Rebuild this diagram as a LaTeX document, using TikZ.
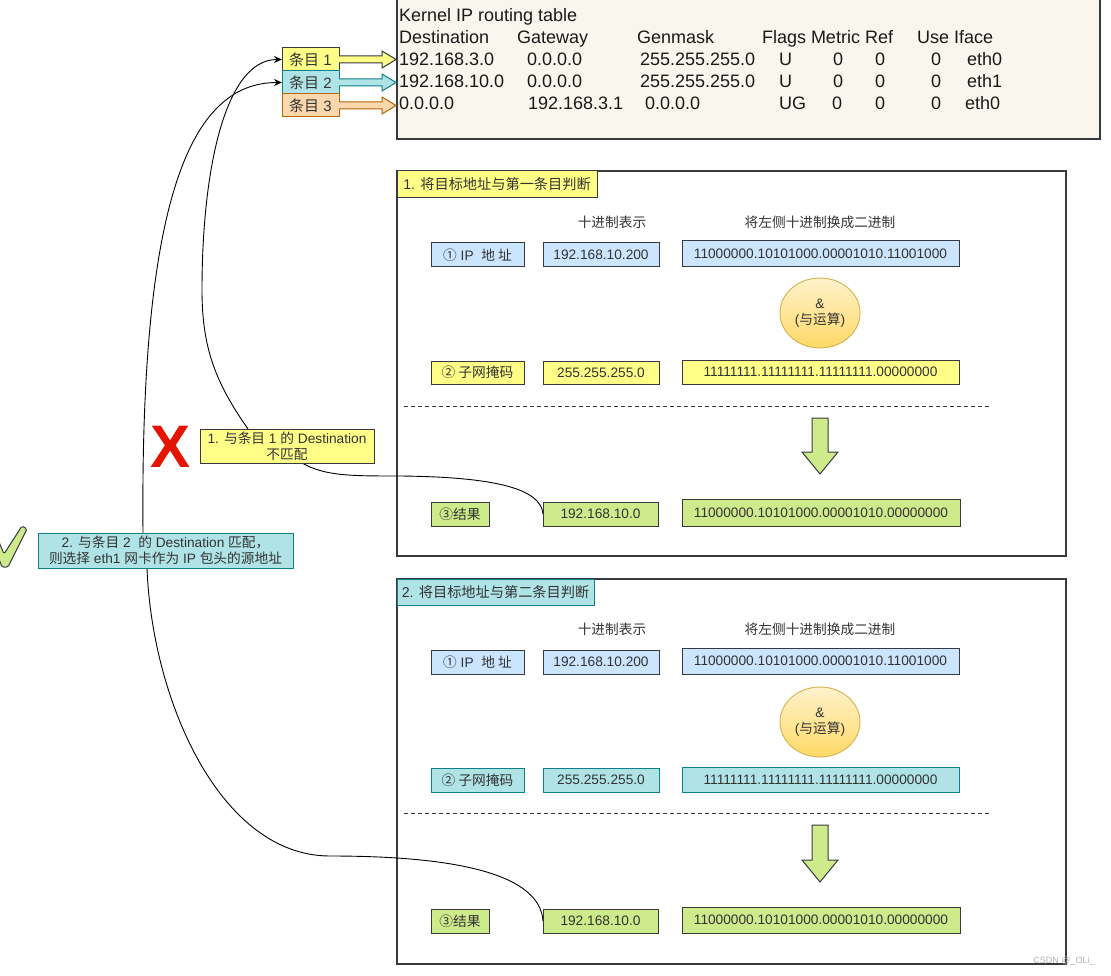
\documentclass[tikz,border=0pt]{standalone}
\usepackage{fontspec}
\setmainfont{Liberation Sans}
\newfontfamily\cjk{Noto Sans CJK SC}
\newcommand\zhtxt[1]{{\cjk #1}}
\usetikzlibrary{arrows.meta,shapes.geometric}
\definecolor{strk}{HTML}{36393D}
\definecolor{txt}{HTML}{333333}
\definecolor{yfill}{HTML}{FFFF88}
\definecolor{bfill}{HTML}{CCE5FF}
\definecolor{tfill}{HTML}{B0E3E6}
\definecolor{tstrk}{HTML}{0E8088}
\definecolor{gfill}{HTML}{CDEB8B}
\definecolor{ofill}{HTML}{FAD7AC}
\definecolor{ostrk}{HTML}{B46504}
\definecolor{tbl}{HTML}{F9F7ED}
\definecolor{xred}{HTML}{E51400}
\definecolor{ellA}{HTML}{FFF2CC}
\definecolor{ellB}{HTML}{FFD966}
\definecolor{ellS}{HTML}{D6B656}
\begin{document}
\begin{tikzpicture}[x=1pt,y=-1pt,
  every node/.style={inner sep=0pt, outer sep=0pt, text=txt},
  body/.style={font=\fontsize{13.7}{16}\selectfont},
  bx/.style={draw=strk, line width=1pt, anchor=north west, body, align=center},
  yb/.style={bx, fill=yfill},
  bb/.style={bx, fill=bfill},
  tb/.style={bx, fill=tfill, draw=tstrk},
  gb/.style={bx, fill=gfill},
  secframe/.style={draw=strk, line width=1.2pt},
  hdr/.style={font=\fontsize{14.2}{17}\selectfont},
  entrybox/.style={bx, font=\fontsize{15}{18}\selectfont, minimum width=57pt, minimum height=23pt},
  tt/.style={anchor=base west, text=black!90, font=\fontsize{18}{22}\selectfont},
  conn/.style={draw=black, line width=0.9pt},
  arrowend/.style={-{Stealth[length=8pt,width=7pt]}},
  downarrow/.style={fill=gfill, draw=strk, line width=1pt},
  andop/.style={ellipse, draw=ellS, line width=1pt, top color=ellA, bottom color=ellB, minimum width=80pt, minimum height=70pt, body, align=center},
  captext/.style={body},
]
\fill[white] (0,0) rectangle (1111,976);
\useasboundingbox (0,0) rectangle (1111,976);

% ---------- routing table ----------
\node[draw=strk, line width=1.2pt, fill=tbl, anchor=north west, minimum width=703pt, minimum height=145pt] (table) at (397,-6) {};
\node[tt] (t0) at (399,22) {Kernel IP routing table};
\node[tt] (h1) at (399,44) {Destination};
\node[tt] (h2) at (517,44) {Gateway};
\node[tt] (h3) at (637,44) {Genmask};
\node[tt] (h4) at (762,44) {Flags Metric Ref};
\node[tt] (h5) at (917,44) {Use Iface};
\node[tt] (a1) at (399,66) {192.168.3.0};
\node[tt] (a2) at (527,66) {0.0.0.0};
\node[tt] (a3) at (640,66) {255.255.255.0};
\node[tt] (a4) at (779,66) {U};
\node[tt] (a5) at (833,66) {0};
\node[tt] (a6) at (875,66) {0};
\node[tt] (a7) at (931,66) {0};
\node[tt] (a8) at (967,66) {eth0};
\node[tt] (b1) at (399,88) {192.168.10.0};
\node[tt] (b2) at (527,88) {0.0.0.0};
\node[tt] (b3) at (640,88) {255.255.255.0};
\node[tt] (b4) at (779,88) {U};
\node[tt] (b5) at (833,88) {0};
\node[tt] (b6) at (875,88) {0};
\node[tt] (b7) at (931,88) {0};
\node[tt] (b8) at (967,88) {eth1};
\node[tt] (c1) at (399,110) {0.0.0.0};
\node[tt] (c2) at (528,110) {192.168.3.1};
\node[tt] (c3) at (645,110) {0.0.0.0};
\node[tt] (c4) at (779,110) {UG};
\node[tt] (c5) at (832,110) {0};
\node[tt] (c6) at (875,110) {0};
\node[tt] (c7) at (931,110) {0};
\node[tt] (c8) at (965,110) {eth0};

% ---------- entries ----------
\node[entrybox, fill=yfill] (e1) at (282,48) {\zhtxt{条目} 1};
\node[entrybox, fill=tfill, draw=tstrk] (e2) at (282,71) {\zhtxt{条目} 2};
\node[entrybox, fill=ofill, draw=ostrk] (e3) at (282,94) {\zhtxt{条目} 3};
\draw[fill=yfill, draw=strk, line width=1pt] (339,56) -- (382,56) -- (382,51) -- (396,59.5) -- (382,68) -- (382,63) -- (339,63);
\draw[fill=tfill, draw=tstrk, line width=1pt] (339,79) -- (382,79) -- (382,74) -- (396,82.5) -- (382,91) -- (382,86) -- (339,86);
\draw[fill=ofill, draw=ostrk, line width=1pt] (339,102) -- (382,102) -- (382,97) -- (396,105.5) -- (382,114) -- (382,109) -- (339,109);

% ---------- section 1 ----------
\draw[secframe] (397,171) rectangle (1066,556);
\node[yb, hdr, minimum width=200pt, minimum height=27pt] (hdr1) at (397,171) {1. \zhtxt{将目标地址与第一条目判断}};
\node[captext] (dec1) at (612,222) {\zhtxt{十进制表示}};
\node[captext] (bin1) at (820,222) {\zhtxt{将左侧十进制换成二进制}};
\node[bb, minimum width=93pt, minimum height=24pt] (ip1) at (431,243) {\zhtxt{①} IP\ \ \zhtxt{地 址}};
\node[bb, minimum width=116pt, minimum height=24pt] (ipd1) at (543,243) {192.168.10.200};
\node[bb, minimum width=277pt, minimum height=26pt] (ipb1) at (682,241) {11000000.10101000.00001010.11001000};
\node[andop] (and1) at (820,313) {\&\\(\zhtxt{与运算})};
\node[yb, minimum width=93pt, minimum height=23pt] (mk1) at (431,361) {\zhtxt{② 子网掩码}};
\node[yb, minimum width=116pt, minimum height=23pt] (mkd1) at (543,361) {255.255.255.0};
\node[yb, minimum width=277pt, minimum height=24pt] (mkb1) at (682,360) {11111111.11111111.11111111.00000000};
\draw[dashed, dash pattern=on 4pt off 3pt, draw=strk, line width=1pt] (404,406) -- (991,406);
\draw[downarrow] (812,418) -- (828,418) -- (828,452) -- (838,452) -- (820,474) -- (802,452) -- (812,452) -- cycle;
\node[gb, minimum width=58pt, minimum height=24pt] (rs1) at (431,502) {\zhtxt{③结果}};
\node[gb, minimum width=115pt, minimum height=24pt] (rsd1) at (543,502) {192.168.10.0};
\node[gb, minimum width=278pt, minimum height=27pt] (rsb1) at (682,499) {11000000.10101000.00001010.00000000};

% ---------- section 2 ----------
\draw[secframe] (397,579) rectangle (1066,964);
\node[tb, hdr, minimum width=197pt, minimum height=26pt] (hdr2) at (397,579) {2. \zhtxt{将目标地址与第二条目判断}};
\node[captext] (dec2) at (612,629) {\zhtxt{十进制表示}};
\node[captext] (bin2) at (820,629) {\zhtxt{将左侧十进制换成二进制}};
\node[bb, minimum width=93pt, minimum height=24pt] (ip2) at (431,650) {\zhtxt{①} IP\ \ \zhtxt{地 址}};
\node[bb, minimum width=116pt, minimum height=24pt] (ipd2) at (543,650) {192.168.10.200};
\node[bb, minimum width=277pt, minimum height=26pt] (ipb2) at (682,648) {11000000.10101000.00001010.11001000};
\node[andop] (and2) at (820,722) {\&\\(\zhtxt{与运算})};
\node[tb, minimum width=93pt, minimum height=24pt] (mk2) at (431,768) {\zhtxt{② 子网掩码}};
\node[tb, minimum width=116pt, minimum height=24pt] (mkd2) at (543,768) {255.255.255.0};
\node[tb, minimum width=277pt, minimum height=25pt] (mkb2) at (682,767) {11111111.11111111.11111111.00000000};
\draw[dashed, dash pattern=on 4pt off 3pt, draw=strk, line width=1pt] (404,813) -- (991,813);
\draw[downarrow] (812,825) -- (828,825) -- (828,860) -- (838,860) -- (820,882) -- (802,860) -- (812,860) -- cycle;
\node[gb, minimum width=58pt, minimum height=24pt] (rs2) at (431,909) {\zhtxt{③结果}};
\node[gb, minimum width=115pt, minimum height=24pt] (rsd2) at (543,909) {192.168.10.0};
\node[gb, minimum width=278pt, minimum height=26pt] (rsb2) at (682,907) {11000000.10101000.00001010.00000000};

% ---------- connectors ----------
\coordinate (k1) at (400,476);
\coordinate (w1) at (202,290);
\coordinate (k2) at (330,856);
\draw[conn] (302,463) .. controls (325,476) and (350,476) .. (k1) .. controls (500,477) and (541,490) .. (rsd1.west);
\draw[conn, arrowend] (248,429) to[out=125,in=-90] (w1) .. controls (202,170) and (225,59.5) .. (e1.west);
\draw[conn] (147,568) .. controls (152,700) and (220,856) .. (k2) .. controls (460,856) and (540,875) .. (rsd2.west);
\draw[conn, arrowend] (143,533) .. controls (140,200) and (190,82.5) .. (e2.west);

% ---------- labels ----------
\node[yb, minimum width=174pt, minimum height=34pt] (lab1) at (200,429) {1. \zhtxt{与条目} 1 \zhtxt{的} Destination\\\zhtxt{不匹配}};
\node[tb, minimum width=255pt, minimum height=35pt] (lab2) at (38,533) {2. \zhtxt{与条目} 2\ \ \zhtxt{的} Destination \zhtxt{匹配，}\\\zhtxt{则选择} eth1 \zhtxt{网卡作为} IP \zhtxt{包头的源地址}};

% ---------- marks ----------
\node[text=xred, font=\fontsize{60}{60}\selectfont\bfseries] (xmark) at (171,447) {X};
\draw[fill=gfill, draw=strk, line width=1pt, rounded corners=1.5pt] (-6,546) -- (-1,542) -- (4,554) -- (22,526) -- (27,529) -- (8,567) -- (2,567) -- cycle;

\node[text=gray!60, font=\fontsize{9}{10}\selectfont] (wm) at (1064,961) {CSDN @\_OLi\_};
\end{tikzpicture}
\end{document}
